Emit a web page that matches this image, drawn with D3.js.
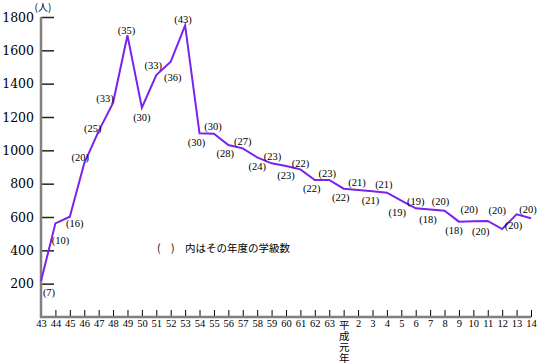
<!DOCTYPE html>
<html lang="ja">
<head>
  <meta charset="UTF-8">
  <title>児童数の推移</title>
  <script src="https://d3js.org/d3.v7.min.js"></script>
  <style>
    body {
      margin: 0;
      padding: 0;
      background: #fff;
    }
    svg {
      display: block;
      background-color: #fff;
    }
  </style>
</head>
<body>
  <svg width="539" height="364"></svg>

  <script>
    // years (昭和43 .. 平成14)
    const years = ["43", "44", "45", "46", "47", "48", "49", "50", "51", "52", "53", "54",
      "55", "56", "57", "58", "59", "60", "61", "62", "63", "平成元年",
      "2", "3", "4", "5", "6", "7", "8", "9", "10", "11", "12", "13", "14"];

    // number of pupils
    const pupils = [216, 562, 602, 922, 1115, 1285, 1690, 1256, 1452, 1532, 1750, 1102,
      1100, 1032, 1012, 958, 922, 906, 886, 822, 822, 770,
      762, 754, 746, 698, 652, 645, 638, 572, 574, 576, 528, 616, 592];

    // number of classes that year
    const classes = [7, 10, 16, 20, 25, 33, 35, 30, 33, 36, 43, 30,
      30, 28, 27, 24, 23, 23, 22, 22, 23, 22,
      21, 21, 21, 19, 19, 18, 20, 18, 20, 20, 20, 20, 20];

    const yTicks = [200, 400, 600, 800, 1000, 1200, 1400, 1600, 1800];

    // where each class label sits relative to its point (px)
    const labelShift = [[8, 11], [5, 17], [5, 7], [-4, -6], [-6, -3], [-8, -5], [-1, -5],
      [0, 10], [-3, -10], [2, 16], [-2, -6], [-3, 9], [-1, -7], [-3, 8], [0, -7],
      [0, 9], [1, -7], [0, 9], [0, -6], [-3, 8], [-2, -7], [-3, 9], [-1, -8],
      [-2, 9], [-3, -8], [-4, 12], [0, -7], [-2, 10], [-4, -9], [-5, 9],
      [-4, -12], [-7, 10], [-5, -19], [-3, 11], [-3, -9]];

    const serif = "'Liberation Serif', 'DejaVu Serif', serif";
    const cjk = "'Noto Sans CJK JP', sans-serif";

    const svg = d3.select("svg");

    const x = d3.scalePoint()
      .domain(years)
      .range([41, 531]);

    const y = d3.scaleLinear()
      .domain([0, 1800])
      .range([317, 17]);

    // y axis ticks + labels
    const yAxis = svg.append("g")
      .attr("transform", "translate(41,0)")
      .call(d3.axisLeft(y).tickValues(yTicks).tickFormat(d3.format("d"))
        .tickSizeInner(-13).tickSizeOuter(0).tickPadding(7));
    yAxis.select(".domain").remove();
    yAxis.selectAll(".tick line").attr("stroke", "#222").attr("stroke-width", 1.5);
    yAxis.selectAll(".tick text")
      .style("font-family", "'DejaVu Serif', serif")
      .style("font-size", "12.5px")
      .attr("fill", "#000");

    // x axis ticks + labels
    const xAxis = svg.append("g")
      .attr("transform", "translate(0,317)")
      .call(d3.axisBottom(x).tickSizeInner(-7).tickSizeOuter(0).tickPadding(3));
    xAxis.select(".domain").remove();
    xAxis.selectAll(".tick line").attr("stroke", "#000");
    xAxis.selectAll(".tick text")
      .style("font-family", serif)
      .style("font-size", "10.5px")
      .attr("fill", "#000");

    // 平成元年 written vertically, one character per line
    xAxis.selectAll(".tick text")
      .filter(d => d === "平成元年")
      .style("font-family", cjk)
      .style("font-size", "10.5px")
      .attr("dy", null)
      .text(null)
      .selectAll("tspan")
      .data(d => Array.from(d))
      .enter().append("tspan")
      .attr("x", 0)
      .attr("dy", (c, i) => i === 0 ? "8.5" : "11.2")
      .text(c => c);

    // axis lines (grey)
    svg.append("line")
      .attr("x1", 41).attr("x2", 41)
      .attr("y1", y(1800)).attr("y2", y(0) + 1)
      .attr("stroke", "#808080").attr("stroke-width", 2.5);
    svg.append("line")
      .attr("x1", 40).attr("x2", x("14"))
      .attr("y1", y(0)).attr("y2", y(0))
      .attr("stroke", "#808080").attr("stroke-width", 2.5);

    // unit
    svg.append("text")
      .attr("x", 43).attr("y", 11)
      .attr("text-anchor", "middle")
      .style("font-family", cjk)
      .style("font-size", "10px")
      .attr("fill", "#000")
      .text("(人)");

    // data line
    const line = d3.line()
      .x((d, i) => x(years[i]))
      .y(d => y(d));

    svg.append("path")
      .datum(pupils)
      .attr("fill", "none")
      .attr("stroke", "#7a22ee")
      .attr("stroke-width", 2)
      .attr("d", line);

    // class counts
    svg.append("g")
      .selectAll("text")
      .data(classes)
      .enter().append("text")
      .attr("x", (d, i) => x(years[i]) + labelShift[i][0])
      .attr("y", (d, i) => y(pupils[i]) + labelShift[i][1])
      .attr("dy", "0.35em")
      .attr("text-anchor", "middle")
      .style("font-family", serif)
      .style("font-size", "10.5px")
      .attr("fill", "#000")
      .text(d => `(${d})`);

    // note
    svg.append("text")
      .attr("x", 157).attr("y", 248)
      .attr("dy", "0.35em")
      .style("font-family", cjk)
      .style("font-size", "10.5px")
      .attr("fill", "#000")
      .text("(\u3000)\u3000内はその年度の学級数");
  </script>
</body>
</html>
